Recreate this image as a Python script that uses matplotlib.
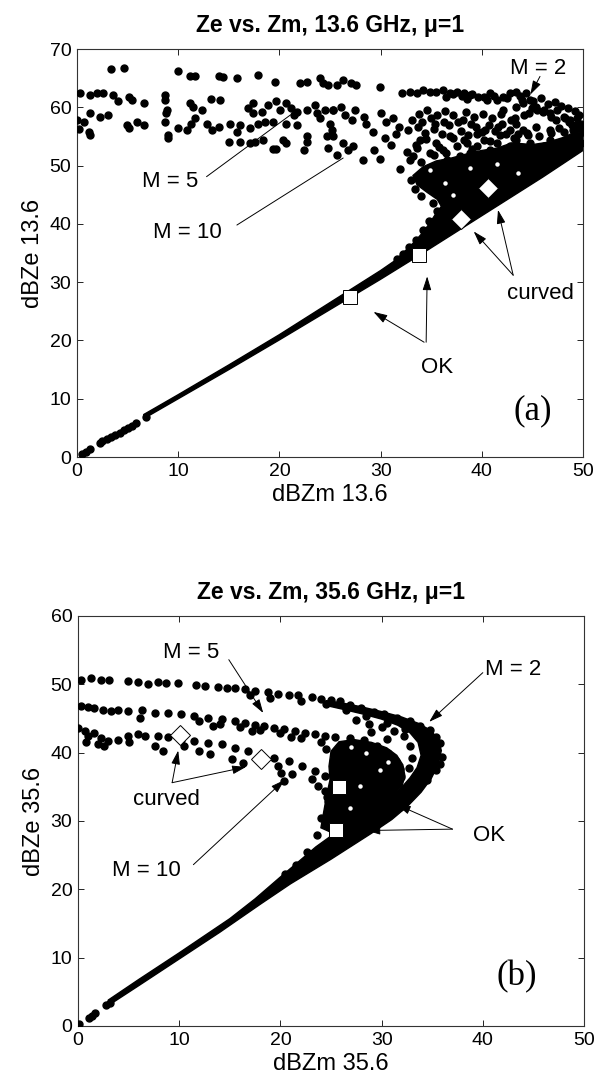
import numpy as np
import matplotlib
matplotlib.use('Agg')
from matplotlib import pyplot as plt

plt.rcParams['font.family'] = ['Liberation Sans', 'DejaVu Sans']

# ---- panel (a): 13.6 GHz ----
# solid black part of the cloud (outline)
a_core = [(6.6, 6.6), (10, 10.0), (15, 15.0), (20, 20.1), (25, 25.3), (30, 30.5),
          (34, 34.8), (38, 39.2), (42, 43.6), (46, 48.0), (50, 52.6),
          (50, 55.4), (49, 55.6), (48, 54.8), (46.5, 54.0), (45, 53.6), (43, 53.9),
          (41.5, 53.0), (40, 52.6), (38.5, 52.0), (37, 51.3), (35.5, 50.8),
          (34.2, 49.8), (33.2, 48.3), (33.6, 46.7), (34.6, 45.4), (35.6, 44.2),
          (36.0, 43.0), (35.4, 41.6), (34.8, 40.0), (34.2, 38.6), (33.4, 37.0),
          (31.5, 33.8), (30, 32.0), (25, 26.5), (20, 21.0), (15, 15.8),
          (10, 10.7), (6.6, 7.3)]
a_start = [(0.5, 0.6), (0.9, 0.9), (1.3, 1.4), (2.3, 2.4), (2.5, 2.7), (3.0, 3.1),
           (3.4, 3.5), (3.8, 3.8), (4.2, 4.2), (4.6, 4.6), (5.0, 5.0), (5.4, 5.4),
           (5.8, 5.8), (6.8, 6.8)]
a_left = [(3.4, 66.6), (4.6, 66.8), (10.0, 66.3), (11.2, 65.4), (11.7, 65.4), (14.0, 65.4),
          (14.4, 65.2), (15.8, 65.0), (17.9, 65.5), (19.6, 64.3), (22.0, 64.1), (22.7, 64.4),
          (24.0, 65.0), (24.3, 64.1), (24.8, 63.8),
          (0.3, 62.4), (1.3, 62.1), (2.0, 62.4), (2.6, 62.4), (3.6, 62.1), (4.1, 61.0),
          (5.1, 61.8), (5.4, 61.2), (6.6, 60.7), (0.0, 57.8), (0.7, 57.5), (1.3, 59.0),
          (1.2, 55.8), (2.3, 58.4), (3.1, 58.7), (4.9, 57.0), (5.1, 56.4), (5.9, 57.5),
          (6.6, 57.0), (0.2, 56.2), (1.3, 55.3),
          (8.7, 62.1), (8.7, 61.2), (8.9, 59.5), (8.8, 59.0), (8.7, 57.5), (9.0, 55.2),
          (9.0, 54.7), (10.0, 56.4), (10.9, 56.1), (11.3, 57.2), (11.7, 58.1), (11.2, 60.7),
          (11.5, 60.1), (12.4, 59.5), (13.2, 61.5), (14.1, 61.2), (12.8, 57.2), (13.3, 56.1),
          (14.0, 56.7)]
a_mid = [(15.0, 54.1), (15.1, 57.2), (16.1, 54.1), (16.1, 57.0), (15.8, 55.8), (17.1, 56.4),
         (17.1, 53.8), (17.6, 54.1), (18.4, 54.4), (16.9, 59.8), (17.4, 60.7), (17.4, 59.0),
         (18.3, 59.2), (18.9, 60.4), (19.7, 61.0), (20.1, 59.5), (20.7, 60.7), (21.1, 59.8),
         (21.4, 58.7), (21.7, 59.2),
         (17.9, 57.2), (18.6, 57.5), (19.4, 57.5), (20.7, 57.2), (21.7, 57.0), (20.4, 54.4),
         (20.7, 53.8), (19.4, 52.9), (19.7, 52.8), (22.4, 52.7), (22.7, 55.0), (22.7, 54.1),
         (22.7, 59.5), (23.5, 60.4), (23.7, 59.0), (24.0, 58.1), (24.5, 59.5), (25.3, 59.5),
         (25.0, 57.2), (25.2, 56.1), (24.7, 55.0), (24.8, 53.0), (25.7, 51.8)]
a_right = [(25.7, 63.8), (26.3, 64.7), (27.1, 64.1), (27.6, 63.8), (29.9, 63.5), (32.1, 62.4),
           (32.9, 62.7), (33.6, 62.4), (34.2, 63.0), (34.9, 62.7), (35.5, 62.7), (36.2, 63.0),
           (36.9, 62.4), (37.5, 62.7), (38.2, 62.4), (38.5, 61.5), (38.8, 62.1), (40.2, 61.8),
           (40.5, 61.2), (41.5, 61.2), (42.1, 61.8), (42.8, 62.4), (43.4, 62.7), (44.4, 62.4),
           (45.1, 61.0),
           (25.3, 59.5), (26.1, 60.1), (26.5, 58.7), (27.2, 57.8), (27.5, 59.5), (28.4, 58.4),
           (28.6, 57.2), (29.2, 55.8), (30.0, 59.0), (30.5, 57.5), (31.2, 58.1), (31.8, 56.7),
           (32.7, 56.1), (33.1, 57.8), (33.7, 56.7), (34.1, 57.5), (35.0, 58.1), (35.4, 57.2),
           (36.3, 57.5), (36.8, 57.0), (37.6, 57.5), (38.1, 57.8), (38.9, 57.2), (39.4, 56.7),
           (40.3, 56.1), (40.7, 57.0), (41.6, 56.7), (42.0, 57.2), (42.9, 57.8), (43.3, 58.1),
           (44.2, 58.7), (44.7, 59.0), (45.5, 59.5), (46.0, 59.2), (46.8, 58.4), (47.3, 57.8),
           (48.2, 58.1), (48.6, 57.5), (49.3, 57.0), (49.8, 57.2),
           (25.3, 55.0), (26.3, 53.8), (26.8, 52.7), (27.3, 53.3), (28.3, 51.0), (29.3, 52.7),
           (29.9, 51.2), (31.9, 49.5), (32.9, 50.9), (33.6, 53.0), (33.9, 54.4), (34.9, 52.1),
           (35.5, 53.8), (36.2, 52.7), (36.9, 55.0), (37.5, 53.3), (38.2, 54.4), (38.8, 52.1),
           (39.5, 53.3), (40.2, 54.4), (40.8, 52.7), (41.5, 53.8), (42.1, 52.1), (42.8, 53.3),
           (43.4, 54.4), (44.1, 52.7), (44.8, 53.8), (45.4, 52.1), (46.1, 53.3), (46.7, 54.4),
           (47.4, 53.3), (48.1, 53.8), (48.7, 54.4), (49.4, 55.0), (49.8, 53.8)]
a_dense = [(42.1, 59.5), (43.4, 60.1), (44.1, 60.7), (44.8, 61.2), (45.4, 60.1), (46.1, 59.5),
           (46.7, 59.0), (47.4, 59.5), (48.1, 58.4), (48.7, 57.8), (49.4, 58.1), (49.7, 56.7),
           (49.0, 56.1), (48.1, 55.8), (46.7, 56.1), (45.4, 56.7), (44.1, 56.1), (43.4, 57.2),
           (42.8, 56.1), (33.5, 53.5), (34.5, 54.5), (35.8, 53.2), (37.2, 54.8), (38.5, 53.8),
           (39.5, 55.5), (40.8, 54.2), (41.8, 55.2), (36.5, 52.2), (39.0, 52.8),
           (36.5, 61.8), (37.2, 62.2), (38.0, 61.9), (39.0, 62.3), (39.6, 61.7), (40.8, 62.5),
           (41.2, 62.0), (42.5, 61.6), (43.8, 61.9), (44.0, 61.2), (45.8, 61.6), (46.5, 60.6),
           (47.2, 60.9), (47.8, 60.2), (48.5, 59.8), (49.2, 59.4), (49.6, 58.6), (45.0, 59.8),
           (33.8, 58.8), (34.6, 59.5), (35.6, 58.6), (36.4, 59.3), (37.2, 58.7), (38.4, 59.2),
           (39.2, 58.4), (40.1, 58.9), (41.0, 58.2), (41.9, 58.8), (34.4, 55.6), (35.3, 56.2),
           (36.1, 55.5), (37.9, 56.0), (38.6, 55.2), (40.0, 55.8), (41.3, 56.0), (42.4, 55.4),
           (43.6, 55.5), (44.6, 55.2), (33.2, 51.6), (34.0, 50.6), (35.3, 51.8), (36.6, 50.9),
           (37.8, 51.6), (38.2, 50.6), (32.6, 52.4), (31.0, 53.5), (30.4, 54.8), (31.5, 55.5),
           (43.2, 54.8), (44.5, 55.6), (45.7, 55.0), (46.8, 55.6), (47.6, 56.4), (48.9, 56.9),
           (49.5, 56.2), (50.0, 55.8),
           (33.0, 47.5), (33.4, 46.0), (34.0, 44.8), (35.2, 43.5), (35.6, 42.2), (34.8, 40.5),
           (34.2, 39.0), (33.5, 37.2), (32.8, 36.0), (32.2, 34.8), (31.6, 33.9)]
a_holes = [(34.9, 49.3), (36.4, 47.0), (38.8, 49.6), (43.6, 48.8), (41.5, 50.2), (37.2, 45.0)]
a_ok = [(27.0, 27.5), (33.8, 34.6)]
a_curved = [(37.9, 40.9), (40.6, 46.1)]

# ---- panel (b): 35.6 GHz ----
# M = 2 band with its lower leg, joined to the diagonal
b_band = [(3.0, 3.0), (6, 5.9), (10, 9.8), (14, 13.7), (18, 17.8), (21, 20.8), (23, 22.6),
          (25, 24.4), (27, 26.3), (29, 28.2), (31, 30.2), (32.6, 32.2), (33.9, 34.2),
          (34.9, 36.2), (35.6, 38.3), (35.9, 40.3), (35.6, 42.0), (34.8, 43.3), (33.6, 44.3),
          (32.0, 45.2), (30.0, 46.0), (28.0, 46.7), (26.0, 47.3), (24.5, 47.6),
          (24.5, 46.9), (26.0, 46.4), (28.0, 45.7), (30.0, 44.9), (31.6, 44.0), (32.8, 42.9),
          (33.6, 41.5), (33.9, 39.6), (33.5, 37.8), (32.8, 36.3), (31.8, 34.6), (30.5, 33.0),
          (29.0, 31.4), (27.0, 29.5), (25.0, 27.8), (23.5, 26.2), (22.0, 24.3), (20.0, 21.8),
          (17.5, 18.6), (15.0, 15.7), (10, 10.7), (6, 6.8), (3.0, 3.8)]
# region under the M = 5 / M = 10 arcs
b_inner = [(24.0, 29.0), (25.5, 28.0), (27.5, 29.8), (29.5, 31.8), (31.0, 33.5), (32.0, 35.0),
           (32.3, 36.6), (32.1, 38.2), (31.5, 39.6), (30.5, 40.7), (29.0, 41.5), (27.3, 41.9),
           (25.8, 41.6), (25.0, 40.2), (24.8, 38.0), (24.9, 36.0), (24.6, 34.0), (24.3, 31.5)]
b_start = [(0.1, 0.3), (1.1, 1.2), (1.4, 1.5), (1.7, 1.9), (2.8, 3.0), (3.2, 3.4)]
b_m2 = [(0.3, 50.6), (1.3, 50.9), (2.3, 50.6), (3.1, 50.6), (4.9, 50.5), (5.9, 50.3),
        (6.9, 50.1), (7.9, 50.3), (8.7, 50.2), (9.9, 50.2), (11.7, 49.9), (12.5, 49.8),
        (13.8, 49.6), (14.7, 49.5), (15.5, 49.5), (16.5, 49.3), (17.5, 49.0), (18.8, 48.8),
        (19.8, 48.6), (20.8, 48.4), (21.7, 48.4), (23.1, 48.2), (24.0, 47.9), (25.0, 47.7),
        (25.9, 47.5), (26.9, 47.0), (28.0, 46.6), (29.2, 46.0), (30.2, 45.6), (31.5, 45.0),
        (32.8, 44.6), (33.8, 43.9), (34.8, 43.3), (35.4, 42.3), (35.8, 41.4), (36.0, 39.4),
        (35.8, 38.4), (35.4, 37.5), (34.5, 36.0), (33.1, 34.1), (31.8, 32.1),
        (26.5, 46.2), (28.5, 45.3), (30.5, 44.4), (32.3, 43.4), (33.8, 42.2), (34.7, 40.6),
        (34.9, 38.8), (22.0, 47.6), (24.5, 47.1), (19.0, 48.0), (17.0, 48.5)]
b_m5 = [(0.3, 46.8), (1.0, 46.7), (1.6, 46.5), (2.5, 46.3), (3.3, 46.1), (4.0, 46.3),
        (4.9, 46.1), (6.1, 45.1), (6.3, 46.2), (7.6, 45.8), (8.9, 45.8), (10.2, 45.6),
        (11.5, 45.3), (12.8, 45.1), (14.2, 44.9), (15.5, 44.6), (16.5, 44.4), (17.5, 44.1),
        (18.4, 43.9), (19.4, 43.6), (20.4, 43.4), (21.4, 43.1), (22.4, 42.9), (23.4, 42.7),
        (24.4, 42.5), (25.4, 42.3), (26.9, 42.2), (28.3, 41.8), (29.5, 41.0), (30.6, 39.9),
        (31.4, 38.8), (31.8, 37.6), (31.9, 36.4),
        (12.0, 44.6), (14.0, 44.2), (16.0, 43.8), (18.0, 43.3), (20.0, 42.8), (22.0, 42.2),
        (24.0, 41.6), (13.3, 43.9), (17.2, 43.1), (21.0, 42.3)]
b_m10 = [(0.0, 43.6), (0.7, 43.1), (1.0, 42.4), (1.6, 42.9), (2.3, 42.2), (3.0, 41.7),
         (4.0, 41.9), (4.9, 42.4), (5.9, 42.7), (6.6, 42.4), (7.9, 42.4), (8.9, 42.3),
         (10.2, 41.9), (11.5, 41.7), (12.8, 41.4), (14.2, 41.2), (15.5, 40.7), (16.8, 40.2),
         (18.1, 39.7), (19.4, 39.2), (20.8, 38.7), (22.1, 38.0), (23.4, 37.3), (24.4, 36.6),
         (25.4, 35.8)]
b_loose = [(0.8, 41.6), (7.6, 41.0), (8.4, 40.3), (13.0, 39.8), (15.2, 39.1), (16.3, 38.5),
           (19.8, 38.0), (20.1, 37.0), (21.1, 36.8), (20.4, 35.8), (23.1, 36.1), (23.7, 35.1),
           (24.4, 34.4), (24.7, 32.9), (25.0, 31.9), (2.0, 41.2), (2.6, 40.9), (5.0, 41.5),
           (10.5, 40.9), (12.0, 40.2), (27.5, 44.8), (28.8, 44.2), (30.0, 43.8), (31.2, 43.2),
           (32.2, 42.5), (32.8, 41.0), (33.0, 39.2), (32.7, 37.8), (29.0, 43.0), (30.5, 42.0),
           (24.5, 40.5), (25.5, 39.8), (26.8, 40.2), (28.0, 39.5), (29.2, 38.8), (30.0, 37.8),
           (27.3, 38.2), (24.0, 30.5), (23.6, 28.0), (22.6, 25.5), (24.6, 33.5), (21.5, 23.5),
           (20.5, 22.3)]
b_holes = [(28.5, 39.9), (29.8, 37.5), (27.9, 35.1), (26.9, 31.9), (30.6, 38.6), (27.0, 40.8)]
b_ok = [(25.8, 34.9), (25.5, 28.7)]
b_curved = [(10.1, 42.6), (18.1, 39.1)]


def xy(pts):
    return np.array(pts).T


fig = plt.figure(figsize=(5.96, 10.89), dpi=100)
ax_a = fig.add_axes([0.1292, 0.5803, 0.849, 0.3747])
ax_b = fig.add_axes([0.1309, 0.0579, 0.849, 0.3765])


def draw_cloud(ax, cores, groups, holes, ok, curved):
    for c in cores:
        ax.fill(*xy(c), color='k', ec='k', lw=1.0, zorder=2)
    for g in groups:
        ax.plot(*xy(g), 'o', ms=5.0, color='k', zorder=3)
    ax.plot(*xy(holes), 'o', ms=3.2, color='w', mec='none', zorder=3)
    ax.plot(*xy(ok), 's', ms=10.5, mfc='w', mec='k', mew=0.7, zorder=5)
    ax.plot(*xy(curved), 'D', ms=10, mfc='w', mec='k', mew=0.7, zorder=5)


def pointer(ax, start, end, head=True):
    style = '-|>,head_length=0.7,head_width=0.22' if head else '-'
    ax.annotate('', xy=end, xytext=start,
                arrowprops=dict(arrowstyle=style, color='k', lw=0.7,
                                shrinkA=0, shrinkB=0, mutation_scale=12),
                zorder=6)


draw_cloud(ax_a, [a_core], [a_start, a_left, a_mid, a_right, a_dense], a_holes, a_ok, a_curved)
draw_cloud(ax_b, [b_band, b_inner], [b_start, b_m2, b_m5, b_m10, b_loose], b_holes, b_ok, b_curved)

lab = dict(fontsize=16, ha='center', va='center', zorder=7)
tag = dict(fontsize=25, family='Liberation Serif', ha='center', va='center')

# annotations (a)
ax_a.text(45.6, 66.7, 'M = 2', **lab)
pointer(ax_a, (45.75, 65.3), (44.8, 62.2))
ax_a.text(9.2, 47.2, 'M = 5', **lab)
pointer(ax_a, (12.8, 48.1), (21.1, 58.7), head=False)
ax_a.text(10.9, 38.6, 'M = 10', **lab)
pointer(ax_a, (15.8, 39.8), (26.3, 51.3), head=False)
ax_a.text(45.8, 28.1, 'curved', **lab)
pointer(ax_a, (43.1, 31.2), (39.2, 38.7))
pointer(ax_a, (43.1, 31.2), (41.6, 42.4))
ax_a.text(35.6, 15.4, 'OK', **lab)
pointer(ax_a, (34.3, 19.7), (29.3, 24.9))
pointer(ax_a, (34.5, 19.7), (34.6, 31.0))
ax_a.text(45.0, 8.0, '(a)', **tag)

# annotations (b)
ax_b.text(11.2, 54.6, 'M = 5', **lab)
pointer(ax_b, (14.9, 53.6), (18.3, 45.8))
ax_b.text(43.0, 52.1, 'M = 2', **lab)
pointer(ax_b, (40.0, 51.7), (34.7, 44.5))
ax_b.text(8.7, 33.1, 'curved', **lab)
pointer(ax_b, (9.3, 35.6), (9.9, 40.3))
pointer(ax_b, (9.3, 35.6), (16.6, 37.9))
ax_b.text(6.8, 22.7, 'M = 10', **lab)
pointer(ax_b, (11.4, 23.6), (20.4, 36.0))
ax_b.text(40.6, 27.8, 'OK', **lab)
pointer(ax_b, (37.0, 28.8), (31.5, 32.4))
pointer(ax_b, (37.0, 28.8), (28.5, 28.6))
ax_b.text(43.4, 7.2, '(b)', **tag)

for ax, ghz, ytop in [(ax_a, '13.6', 70), (ax_b, '35.6', 60)]:
    ax.set_xlim(0, 50)
    ax.set_ylim(0, ytop)
    ax.set_xticks(range(0, 51, 10))
    ax.set_yticks(range(0, ytop + 1, 10))
    ax.tick_params(direction='in', top=True, right=True, length=4, width=0.6,
                   labelsize=14, pad=4)
    for s in ax.spines.values():
        s.set_linewidth(0.8)
        s.set_color('#333333')
    ax.set_xlabel('dBZm ' + ghz, fontsize=17, labelpad=3)
    ax.set_ylabel('dBZe ' + ghz, fontsize=17, labelpad=4)
    ax.set_title('Ze vs. Zm, %s GHz, \u03bc=1' % ghz, fontsize=16.5, fontweight='bold', pad=12)

fig.savefig('out.png', dpi=100)
